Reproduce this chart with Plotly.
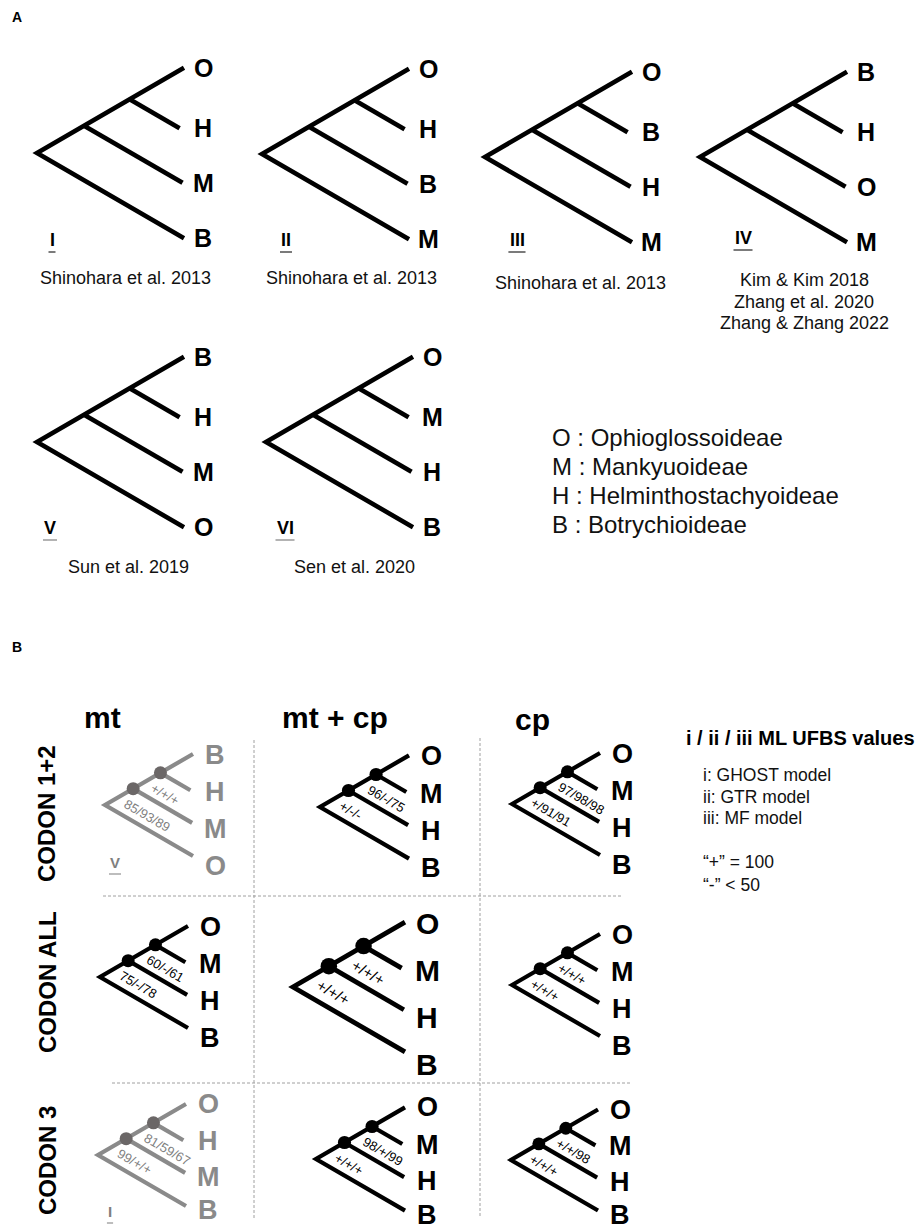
import plotly.graph_objects as go

# ---------------- data ----------------
# Panel A: previously published subfamily topologies (tips listed top to bottom)
A_TREE_IDS = ["I", "II", "III", "IV", "V", "VI"]
A_TIP_ORDERS = [
    ["O", "H", "M", "B"],
    ["O", "H", "B", "M"],
    ["O", "B", "H", "M"],
    ["B", "H", "O", "M"],
    ["B", "H", "M", "O"],
    ["O", "M", "H", "B"],
]
A_CITATIONS = [
    ["Shinohara et al. 2013"],
    ["Shinohara et al. 2013"],
    ["Shinohara et al. 2013"],
    ["Kim & Kim 2018", "Zhang et al. 2020", "Zhang & Zhang 2022"],
    ["Sun et al. 2019"],
    ["Sen et al. 2020"],
]
CLADE_CODES = ["O", "M", "H", "B"]
CLADE_NAMES = ["Ophioglossoideae", "Mankyuoideae", "Helminthostachyoideae", "Botrychioideae"]

# Panel B: inferred topologies per dataset (columns) and codon partition (rows)
DATASETS = ["mt", "mt + cp", "cp"]
PARTITIONS = ["CODON 1+2", "CODON ALL", "CODON 3"]
B_TIP_ORDERS = [
    [["B", "H", "M", "O"], ["O", "M", "H", "B"], ["O", "M", "H", "B"]],
    [["O", "M", "H", "B"], ["O", "M", "H", "B"], ["O", "M", "H", "B"]],
    [["O", "H", "M", "B"], ["O", "M", "H", "B"], ["O", "M", "H", "B"]],
]
# UFBS support (GHOST / GTR / MF) for the crown node and the deeper node
B_SUPPORT_INNER = [
    ["+/+/+", "96/-/75", "97/98/98"],
    ["60/-/61", "+/+/+", "+/+/+"],
    ["81/59/67", "98/+/99", "+/+/98"],
]
B_SUPPORT_OUTER = [
    ["85/93/89", "+/-/-", "+/91/91"],
    ["75/-/78", "+/+/+", "+/+/+"],
    ["99/+/+", "+/+/+", "+/+/+"],
]
# topology from panel A that a conflicting tree corresponds to (drawn in grey)
B_MATCHED_TOPOLOGY = [["V", None, None], [None, None, None], ["I", None, None]]
SUPPORT_TITLE = "i / ii / iii ML UFBS values"
MODEL_KEY = ["i: GHOST model", "ii: GTR model", "iii: MF model"]
SUPPORT_KEY = ["\u201c+\u201d = 100", "\u201c-\u201d < 50"]

# ---------------- layout ----------------
W, H = 917, 1232
FONT = "Liberation Sans, Arial, Helvetica, sans-serif"
BLACK = "#000000"
GREY = "#8a8a8a"
GREY_TEXT = "#7f7f7f"
GREY_NODE = "#6b6767"
SLOPE = 0.58

A_ROOTS = [(37, 153), (262, 154), (485, 157), (700, 157), (37, 442), (266, 442)]
A_SPAN = 147
A_NUMERAL_POS = [(52, 240), (286, 240), (517, 240), (743, 238), (50, 528), (285, 528)]
A_CAPTION_POS = [(125, 278), (351, 278), (580, 283), (804, 280), (128, 567), (354, 567)]

B_ROOTS = [
    [(105, 805), (320, 807), (512, 804)],
    [(100, 977), (293, 987), (512, 985)],
    [(98, 1155), (316, 1159), (511, 1160)],
]
B_SPANS = [[88, 89, 88], [88, 112, 88], [88, 89, 87]]
# vertical placement of the four tip labels, as fractions of the tree span
B_LABEL_OFFSETS = [
    [-0.57, -0.15, 0.27, 0.69],
    [-0.57, -0.15, 0.27, 0.69],
    [-0.58, -0.16, 0.25, 0.63],
]
B_NUMERAL_POS = [[(115, 862), None, None], [None, None, None], [(110, 1211), None, None]]
B_HEADER_POS = [(102, 717), (335, 717), (532, 719)]
B_ROW_LABEL_POS = [(46, 814), (47, 982), (47, 1161)]

CHAR_W = {"/": 0.278, "+": 0.584, "-": 0.333}


def text_width(s, size):
    return sum(CHAR_W.get(c, 0.556) for c in s) * size


def tree_geometry(x0, y0, s):
    n1 = (x0 + 0.32 * s, y0 - SLOPE * 0.32 * s)
    n2 = (x0 + 0.63 * s, y0 - SLOPE * 0.63 * s)
    top = (x0 + s, y0 - SLOPE * s)
    bot = (x0 + s, y0 + SLOPE * s)
    t2 = (x0 + 0.97 * s, n2[1] + SLOPE * 0.34 * s)
    t3 = (x0 + 0.99 * s, n1[1] + SLOPE * 0.67 * s)
    return n1, n2, [top, t2, t3, bot]


fig = go.Figure()
annotations = []
shapes = []


def esc(t):
    return t.replace("&", "&amp;").replace("<", "&lt;")


def add_text(x, y, text, size, color=BLACK, bold=False, angle=0, xanchor="center", yanchor="middle"):
    t = esc(text)
    if bold:
        t = "<b>" + t + "</b>"
    annotations.append(dict(
        x=x, y=y, xref="x", yref="y", text=t, showarrow=False,
        font=dict(family=FONT, size=size, color=color), textangle=angle,
        xanchor=xanchor, yanchor=yanchor, borderpad=0,
    ))


def draw_tree(x0, y0, s, color, width, dots=None):
    n1, n2, tips = tree_geometry(x0, y0, s)
    top, t2, t3, bot = tips
    xs = [top[0], x0, bot[0], None, n1[0], t3[0], None, n2[0], t2[0]]
    ys = [top[1], y0, bot[1], None, n1[1], t3[1], None, n2[1], t2[1]]
    fig.add_trace(go.Scatter(x=xs, y=ys, mode="lines", hoverinfo="skip", showlegend=False,
                             line=dict(color=color, width=width)))
    if dots:
        dcol, dsize = dots
        fig.add_trace(go.Scatter(x=[n1[0], n2[0]], y=[n1[1], n2[1]], mode="markers",
                                 hoverinfo="skip", showlegend=False,
                                 marker=dict(color=dcol, size=dsize, line=dict(width=0))))
    return n1, n2, tips


def numeral(x, y, label, size, color, ucolor):
    add_text(x, y, label, size, color=color, bold=True)
    w = sum(0.278 if c == "I" else 0.667 for c in label) * size
    shapes.append(dict(type="line", xref="x", yref="y", x0=x - w / 2 - 1, x1=x + w / 2 + 1,
                       y0=y + 12, y1=y + 12, line=dict(color=ucolor, width=1.3)))


# ---------------- panel A ----------------
add_text(17, 17, "A", 14, bold=True)
for i, tid in enumerate(A_TREE_IDS):
    x0, y0 = A_ROOTS[i]
    _, _, tips = draw_tree(x0, y0, A_SPAN, BLACK, 4.6)
    for lab, tip in zip(A_TIP_ORDERS[i], tips):
        add_text(x0 + A_SPAN + 19, tip[1], lab, 25, bold=True)
    nx, ny = A_NUMERAL_POS[i]
    numeral(nx, ny, tid, 18, BLACK, "#333333" if i < 4 else "#8a8a8a")
    cx, cy = A_CAPTION_POS[i]
    for k, line in enumerate(A_CITATIONS[i]):
        add_text(cx, cy + 21.5 * k, line, 18, color="#111111")

for k, (code, name) in enumerate(zip(CLADE_CODES, CLADE_NAMES)):
    add_text(551, 437 + 29 * k, f"{code} : {name}", 24, color="#111111", xanchor="left")

# ---------------- panel B ----------------
add_text(17, 647, "B", 14, bold=True)
for j, ds in enumerate(DATASETS):
    hx, hy = B_HEADER_POS[j]
    add_text(hx, hy, ds, 30, bold=True)
for r, part in enumerate(PARTITIONS):
    rx, ry = B_ROW_LABEL_POS[r]
    add_text(rx, ry, part, 24, bold=True, angle=-90)

for r in range(3):
    for c in range(3):
        x0, y0 = B_ROOTS[r][c]
        s = B_SPANS[r][c]
        k = s / 88.0
        grey = B_MATCHED_TOPOLOGY[r][c] is not None
        lcol = GREY if grey else BLACK
        tcol = GREY_TEXT if grey else BLACK
        dcol = GREY_NODE if grey else BLACK
        n1, n2, tips = draw_tree(x0, y0, s, lcol, 4.2 * min(k, 1.15), dots=(dcol, 13 * k))
        lab_size = 27 if k < 1.1 else 30
        for lab, off in zip(B_TIP_ORDERS[r][c], B_LABEL_OFFSETS[r]):
            add_text(x0 + s + 22, y0 + off * s, lab, lab_size, color=lcol, bold=True)
        sup_size = 13 if k < 1.1 else 15
        for node, sup in ((n2, B_SUPPORT_INNER[r][c]), (n1, B_SUPPORT_OUTER[r][c])):
            L = text_width(sup, sup_size)
            sx = node[0] - 0.5 * 16 * k
            sy = node[1] + 0.866 * 16 * k
            cx = sx + 0.866 * L / 2
            cy = sy + 0.5 * L / 2
            add_text(cx, cy, sup, sup_size, color=tcol, angle=30)
        if grey:
            nx, ny = B_NUMERAL_POS[r][c]
            numeral(nx, ny, B_MATCHED_TOPOLOGY[r][c], 15, GREY_TEXT, "#9a9a9a")

# dashed grid separating the cells
GRID = dict(color="#a0a0a0", width=1, dash="3px,2px")
for (gx0, gy0, gx1, gy1) in [(254, 740, 254, 1218), (480, 738, 480, 1218),
                             (103, 896, 623, 896), (112, 1083, 632, 1083)]:
    shapes.append(dict(type="line", xref="x", yref="y", x0=gx0, y0=gy0, x1=gx1, y1=gy1, line=GRID))

# support key
add_text(685, 738, SUPPORT_TITLE, 20, bold=True, xanchor="left")
for k, line in enumerate(MODEL_KEY):
    add_text(702, 775 + 21.5 * k, line, 17.5, color="#111111", xanchor="left")
for k, line in enumerate(SUPPORT_KEY):
    add_text(702, 862 + 23 * k, line, 17.5, color="#111111", xanchor="left")

fig.update_layout(
    width=W, height=H, margin=dict(l=0, r=0, t=0, b=0),
    paper_bgcolor="white", plot_bgcolor="white",
    xaxis=dict(range=[0, W], visible=False, fixedrange=True),
    yaxis=dict(range=[H, 0], visible=False, fixedrange=True),
    annotations=annotations, shapes=shapes, showlegend=False,
)
fig.write_html("out.html")
